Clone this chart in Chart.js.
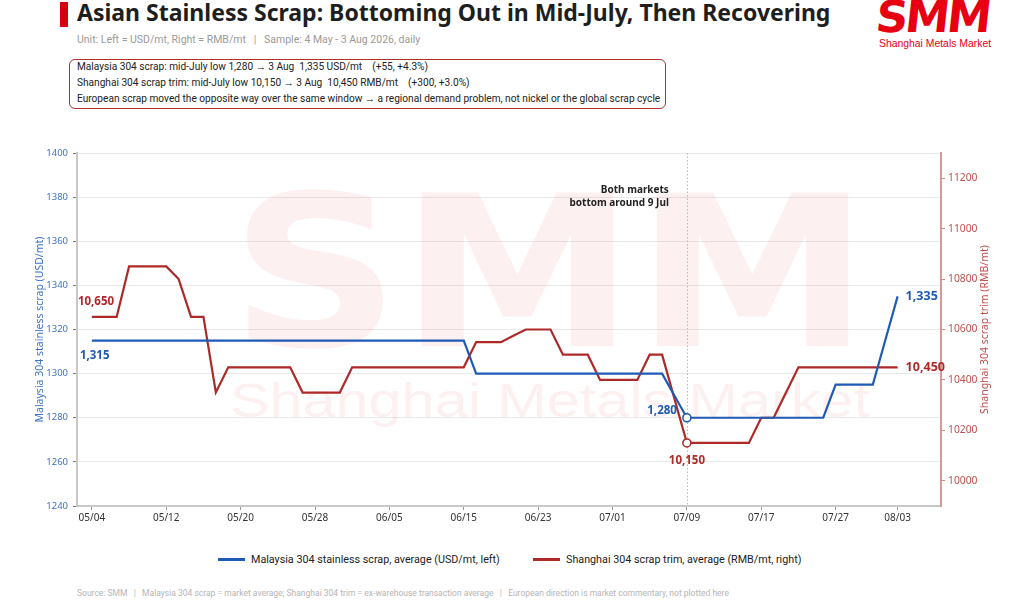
<!DOCTYPE html>
<html>
<head>
<meta charset="utf-8">
<script src="https://cdn.jsdelivr.net/npm/chart.js@4.4.1/dist/chart.umd.min.js"></script>
<style>
  body { margin: 0; width: 1024px; height: 615px; background: #fff; position: relative; overflow: hidden; font-family: Roboto, sans-serif; }
  .bar { position: absolute; left: 60px; top: 2px; width: 8px; height: 25px; background: #d7000f; }
  .title { position: absolute; left: 77px; top: -4px; font: 700 23px 'Noto Sans', sans-serif; color: #1e1e1e; white-space: nowrap; }
  .sub { position: absolute; left: 77px; top: 33px; font-size: 10.5px; color: #9a9a9a; white-space: nowrap; }
  .box { position: absolute; left: 69px; top: 59px; width: 595px; height: 48px; border: 1.3px solid #b0302c; border-radius: 6px; }
  .box div { position: absolute; left: 7px; font-size: 10.15px; color: #222; white-space: nowrap; }
  .logo { position: absolute; left: 879px; top: -9px; font: 900 44px 'DejaVu Sans', sans-serif; color: #e60012; letter-spacing: -3px; transform-origin: left top; transform: scaleX(1.02) skewX(-6deg); }
  .logotxt { position: absolute; left: 879px; top: 38px; font: 10.4px 'Liberation Sans', sans-serif; color: #e60012; white-space: nowrap; }
  #wrap { position: absolute; left: 0; top: 140px; width: 1024px; height: 400px; }
  .legend { position: absolute; top: 553px; font-size: 10.75px; color: #222; white-space: nowrap; }
  .legend span { display: inline-block; width: 27px; height: 3px; vertical-align: middle; margin-right: 6px; position: relative; top: -1px; }
  .foot { position: absolute; left: 77px; top: 588px; font-size: 8.5px; color: #b5b5b5; white-space: nowrap; }
</style>
</head>
<body>
<div class="bar"></div>
<div class="title">Asian Stainless Scrap: Bottoming Out in Mid-July, Then Recovering</div>
<div class="sub">Unit: Left = USD/mt, Right = RMB/mt &nbsp;&nbsp;|&nbsp;&nbsp; Sample: 4 May - 3 Aug 2026, daily</div>
<div class="box">
  <div style="top:1px">Malaysia 304 scrap: mid-July low 1,280 → 3 Aug &nbsp;1,335 USD/mt &nbsp;&nbsp;&nbsp;(+55, +4.3%)</div>
  <div style="top:17px">Shanghai 304 scrap trim: mid-July low 10,150 → 3 Aug &nbsp;10,450 RMB/mt &nbsp;&nbsp;&nbsp;(+300, +3.0%)</div>
  <div style="top:33px">European scrap moved the opposite way over the same window → a regional demand problem, not nickel or the global scrap cycle</div>
</div>
<div class="logo">SMM</div>
<div class="logotxt">Shanghai Metals Market</div>
<div id="wrap"><canvas id="chart"></canvas></div>
<div class="legend" style="left:218px"><span style="background:#1f5bb5"></span>Malaysia 304 stainless scrap, average (USD/mt, left)</div>
<div class="legend" style="left:533px"><span style="background:#ad2a28"></span>Shanghai 304 scrap trim, average (RMB/mt, right)</div>
<div class="foot">Source: SMM &nbsp;&nbsp;|&nbsp;&nbsp; Malaysia 304 scrap = market average; Shanghai 304 trim = ex-warehouse transaction average &nbsp;&nbsp;|&nbsp;&nbsp; European direction is market commentary, not plotted here</div>

<script>
'use strict'

// trading days, 4 May - 3 Aug 2026
var dates = [
  '05/04', '05/05', '05/06', '05/07', '05/08', '05/11', '05/12', '05/13', '05/14', '05/15',
  '05/18', '05/19', '05/20', '05/21', '05/22', '05/25', '05/26', '05/27', '05/28', '05/29',
  '06/01', '06/02', '06/03', '06/04', '06/05', '06/08', '06/09', '06/10', '06/11', '06/12',
  '06/15', '06/16', '06/17', '06/18', '06/19', '06/22', '06/23', '06/24', '06/25', '06/26',
  '06/29', '06/30', '07/01', '07/02', '07/03', '07/06', '07/07', '07/08', '07/09', '07/10',
  '07/13', '07/14', '07/15', '07/16', '07/17', '07/20', '07/21', '07/22', '07/23', '07/24',
  '07/27', '07/28', '07/29', '07/30', '07/31', '08/03'
]

// Malaysia 304 stainless scrap, USD/mt
var malaysia = [
  1315, 1315, 1315, 1315, 1315, 1315, 1315, 1315, 1315, 1315,
  1315, 1315, 1315, 1315, 1315, 1315, 1315, 1315, 1315, 1315,
  1315, 1315, 1315, 1315, 1315, 1315, 1315, 1315, 1315, 1315,
  1315, 1300, 1300, 1300, 1300, 1300, 1300, 1300, 1300, 1300,
  1300, 1300, 1300, 1300, 1300, 1300, 1300, 1290, 1280, 1280,
  1280, 1280, 1280, 1280, 1280, 1280, 1280, 1280, 1280, 1280,
  1295, 1295, 1295, 1295, 1315, 1335
]

// Shanghai 304 scrap trim, RMB/mt
var shanghai = [
  10650, 10650, 10650, 10850, 10850, 10850, 10850, 10800, 10650, 10650,
  10350, 10450, 10450, 10450, 10450, 10450, 10450, 10350, 10350, 10350,
  10350, 10450, 10450, 10450, 10450, 10450, 10450, 10450, 10450, 10450,
  10450, 10550, 10550, 10550, 10575, 10600, 10600, 10600, 10500, 10500,
  10500, 10400, 10400, 10400, 10400, 10500, 10500, 10325, 10150, 10150,
  10150, 10150, 10150, 10150, 10250, 10250, 10350, 10450, 10450, 10450,
  10450, 10450, 10450, 10450, 10450, 10450
]

var tickIdx = [0, 6, 12, 18, 24, 30, 36, 42, 48, 54, 60, 65]
var leftTicks = [1240, 1260, 1280, 1300, 1320, 1340, 1360, 1380, 1400]
var rightTicks = [10000, 10200, 10400, 10600, 10800, 11000, 11200]

var BLUE = '#1f5bb5'
var RED = '#ad2a28'

var lowBlue = malaysia.indexOf(Math.min.apply(null, malaysia))
var lowRed = shanghai.indexOf(Math.min.apply(null, shanghai))

function pts(arr) {
  return arr.map(function (v, i) { return { x: i, y: v } })
}
function fmt(v) { return v.toLocaleString('en-US') }

// light SMM watermark behind the lines
var watermark = {
  id: 'watermark',
  beforeDatasetsDraw: function (chart) {
    var ctx = chart.ctx
    ctx.save()
    ctx.fillStyle = 'rgba(226, 60, 60, 0.075)'
    ctx.font = '900 210px "DejaVu Sans"'
    var w = ctx.measureText('SMM').width
    ctx.translate(550, 206)
    ctx.scale(640 / w, 1)
    ctx.textAlign = 'center'
    ctx.fillText('SMM', 0, 0)
    ctx.restore()
    ctx.save()
    ctx.fillStyle = 'rgba(226, 60, 60, 0.075)'
    ctx.font = '49px "Liberation Sans"'
    var w2 = ctx.measureText('Shanghai Metals Market').width
    ctx.translate(550, 277)
    ctx.scale(640 / w2, 1)
    ctx.textAlign = 'center'
    ctx.fillText('Shanghai Metals Market', 0, 0)
    ctx.restore()
    // dotted marker at the common bottom
    var xs = chart.scales.x
    var x = Math.round(xs.getPixelForValue(lowBlue)) + 0.5
    ctx.save()
    ctx.strokeStyle = '#b8b8b8'
    ctx.lineWidth = 1
    ctx.setLineDash([1.5, 2])
    ctx.beginPath()
    ctx.moveTo(x, chart.chartArea.top)
    ctx.lineTo(x, chart.chartArea.bottom)
    ctx.stroke()
    ctx.restore()
  }
}

// value labels, annotation and right axis title
var labels = {
  id: 'labels',
  afterDatasetsDraw: function (chart) {
    var ctx = chart.ctx
    var b = chart.getDatasetMeta(0).data
    var r = chart.getDatasetMeta(1).data
    var last = malaysia.length - 1
    ctx.save()
    ctx.font = 'bold 11.5px "Noto Sans"'
    ctx.textBaseline = 'middle'
    ctx.fillStyle = RED
    ctx.textAlign = 'left'
    ctx.fillText(fmt(shanghai[0]), r[0].x - 14, r[0].y - 15)
    ctx.fillStyle = BLUE
    ctx.fillText(fmt(malaysia[0]), b[0].x - 12, b[0].y + 15)
    ctx.textAlign = 'right'
    ctx.fillText(fmt(malaysia[lowBlue]), b[lowBlue].x - 10, b[lowBlue].y - 7)
    ctx.fillStyle = RED
    ctx.textAlign = 'center'
    ctx.fillText(fmt(shanghai[lowRed]), r[lowRed].x, r[lowRed].y + 18)
    ctx.textAlign = 'left'
    ctx.font = 'bold 12.5px "Noto Sans"'
    ctx.fillStyle = BLUE
    ctx.fillText(fmt(malaysia[last]), b[last].x + 8, b[last].y)
    ctx.fillStyle = RED
    ctx.fillText(fmt(shanghai[last]), b[last].x + 8, r[last].y)
    ctx.fillStyle = '#222'
    ctx.font = 'bold 10px "Noto Sans"'
    ctx.textAlign = 'right'
    var ax = chart.scales.x.getPixelForValue(lowBlue) - 18
    ctx.fillText('Both markets', ax, chart.chartArea.top + 37)
    ctx.fillText('bottom around 9 Jul', ax, chart.chartArea.top + 50)
    // right axis title, reading upward
    var ca = chart.chartArea
    ctx.translate(985, (ca.top + ca.bottom) / 2)
    ctx.rotate(-Math.PI / 2)
    ctx.textAlign = 'center'
    ctx.fillStyle = '#c0504d'
    ctx.font = '10.5px "Noto Sans"'
    ctx.fillText('Shanghai 304 scrap trim (RMB/mt)', 0, 0)
    ctx.restore()
  }
}

Chart.defaults.font.family = "'Noto Sans', sans-serif"
Chart.defaults.font.size = 10

var ctx = document.getElementById('chart').getContext('2d')
new Chart(ctx, {
  type: 'line',
  data: {
    datasets: [
      {
        label: 'Malaysia 304 stainless scrap, average (USD/mt, left)',
        data: pts(malaysia),
        yAxisID: 'y',
        borderColor: BLUE,
        borderWidth: 2.2,
        pointRadius: function (c) { return c.dataIndex === lowBlue ? 4 : 0 },
        pointBackgroundColor: '#fff',
        pointBorderColor: BLUE,
        pointBorderWidth: 1.6,
        tension: 0
      },
      {
        label: 'Shanghai 304 scrap trim, average (RMB/mt, right)',
        data: pts(shanghai),
        yAxisID: 'y1',
        borderColor: RED,
        borderWidth: 2.2,
        pointRadius: function (c) { return c.dataIndex === lowRed ? 4 : 0 },
        pointBackgroundColor: '#fff',
        pointBorderColor: RED,
        pointBorderWidth: 1.6,
        tension: 0
      }
    ]
  },
  options: {
    responsive: true,
    maintainAspectRatio: false,
    animation: false,
    layout: { padding: { top: 13, left: 0, right: 0, bottom: 0 } },
    plugins: {
      legend: { display: false },
      tooltip: { enabled: false }
    },
    scales: {
      x: {
        type: 'linear',
        min: -1.2,
        max: 68.5,
        afterBuildTicks: function (s) { s.ticks = tickIdx.map(function (v) { return { value: v } }) },
        afterFit: function (s) { s.height = 34 },
        ticks: {
          color: '#333',
          padding: 2,
          maxRotation: 0,
          autoSkip: false,
          callback: function (v) { return dates[v] }
        },
        grid: { drawOnChartArea: false, tickLength: 4, tickColor: '#999' },
        border: { color: '#c8c8c8', width: 2 }
      },
      y: {
        position: 'left',
        min: 1240,
        max: 1400,
        afterBuildTicks: function (s) { s.ticks = leftTicks.map(function (v) { return { value: v } }) },
        afterFit: function (s) { s.width = 77 },
        ticks: {
          color: '#3f72c4',
          padding: 5,
          font: { size: 9.5 },
          callback: function (v) { return String(v) }
        },
        grid: { color: '#e9e9e9', tickLength: 4, tickColor: '#777' },
        border: { color: '#c8c8c8', width: 2 },
        title: {
          display: true,
          text: 'Malaysia 304 stainless scrap (USD/mt)',
          color: '#3f72c4',
          font: { size: 10.5 },
          padding: { top: 34, bottom: 0 }
        }
      },
      y1: {
        position: 'right',
        min: 9900,
        max: 11300,
        afterBuildTicks: function (s) { s.ticks = rightTicks.map(function (v) { return { value: v } }) },
        afterFit: function (s) { s.width = 83 },
        ticks: {
          color: '#c0504d',
          padding: 3,
          font: { size: 10.3 },
          callback: function (v) { return String(v) }
        },
        grid: { drawOnChartArea: false, tickLength: 4, tickColor: '#c98a88' },
        border: { color: '#d49a98', width: 2 }
      }
    }
  },
  plugins: [watermark, labels]
})
</script>
</body>
</html>
